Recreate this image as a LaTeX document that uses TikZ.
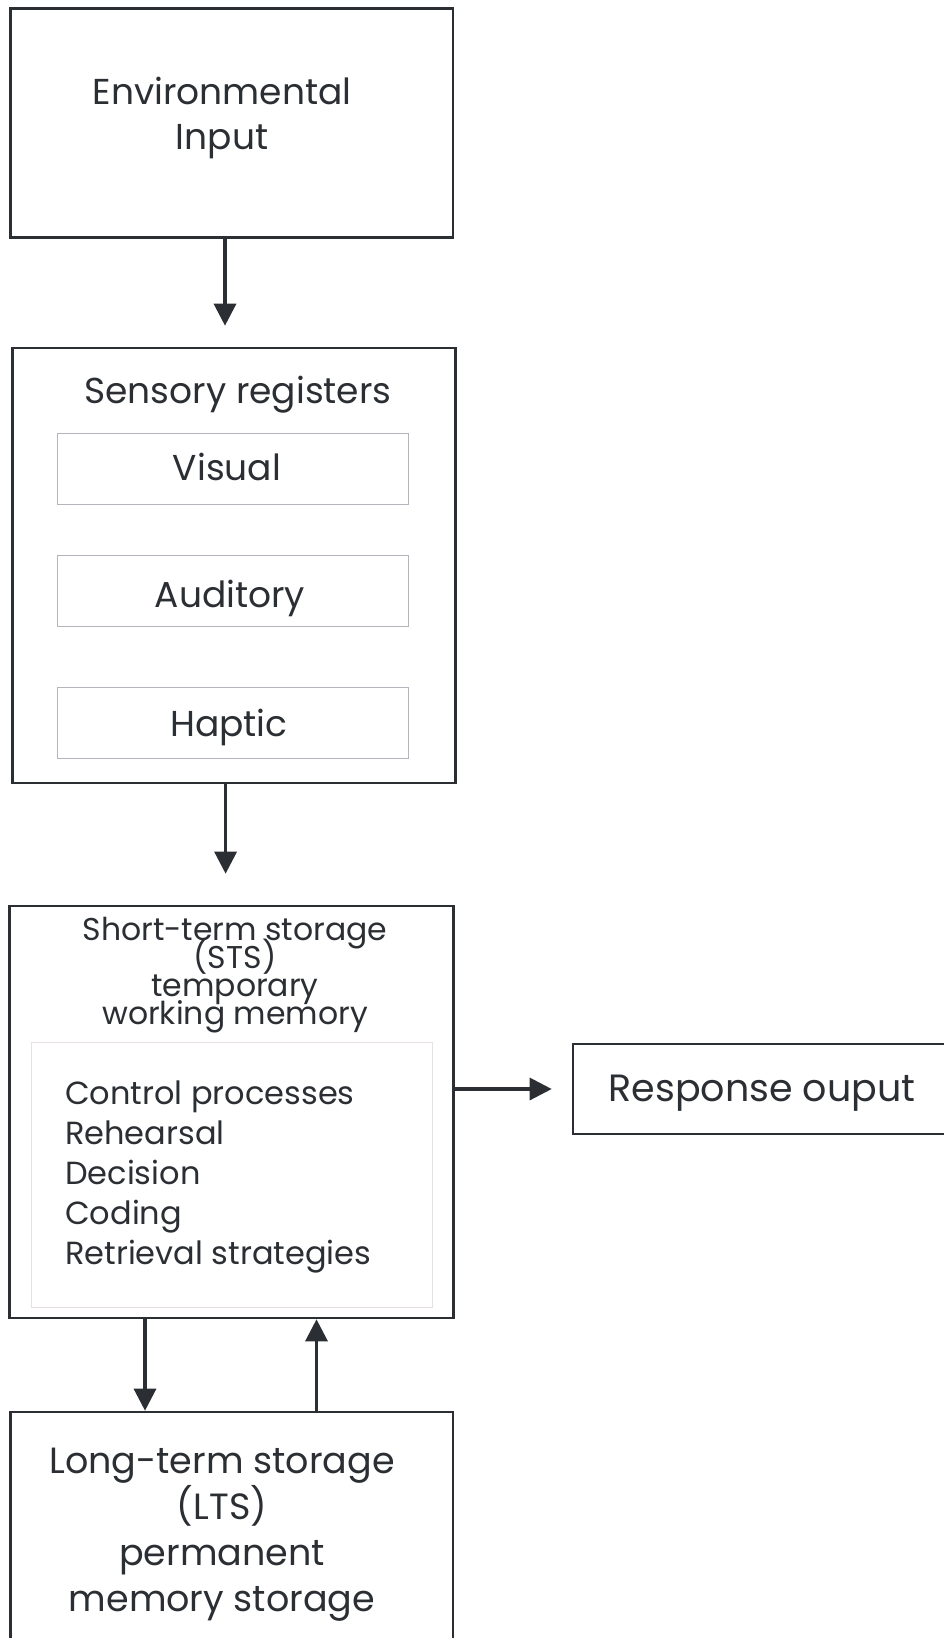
\documentclass[tikz,border=0pt]{standalone}
\usepackage{fontspec}
\setmainfont{Poppins}
\usetikzlibrary{arrows.meta,calc}
\definecolor{ink}{HTML}{2B2F33}
\definecolor{subgray}{HTML}{B4B4BC}
\definecolor{faint}{HTML}{E6E0E6}
\tikzset{
  bigbox/.style={draw=ink,line width=2.6pt,rectangle,inner sep=0pt},
  subbox/.style={draw=subgray,line width=1pt,rectangle,inner sep=0pt},
  faintbox/.style={draw=faint,line width=1pt,rectangle,inner sep=0pt},
  bigtxt/.style={text=ink,align=center,inner sep=0pt,font=\fontsize{36}{45}\selectfont},
  ststxt/.style={text=ink,align=center,inner sep=0pt,font={\fontsize{31.5}{28}\selectfont\lineskiplimit=-30pt\relax}},
  listtxt/.style={text=ink,align=left,inner sep=0pt,font=\fontsize{32}{40}\selectfont},
  arr/.style={draw=ink,line width=3.2pt,-{Triangle[length=22pt,width=22pt]}}
}
\begin{document}
\begin{tikzpicture}[x=1pt,y=1pt]
\useasboundingbox (0,0) rectangle (943,-1638);
\fill[white] (0,0) rectangle (943,-1638);
% Environmental input
\node[bigbox,minimum width=442.6pt,minimum height=228.6pt] (env) at (231.7,-123) {};
\node[bigtxt] (envt) at (222,-118) {Environmental\\Input};
% Sensory registers
\node[bigbox,minimum width=443.5pt,minimum height=435pt] (sens) at (234,-565.5) {};
\node[bigtxt] (senst) at (238,-395) {Sensory registers};
\node[subbox,minimum width=351pt,minimum height=71pt] (vis) at (232.5,-468.5) {};
\node[bigtxt] (vist) at (227,-467) {Visual};
\node[subbox,minimum width=351pt,minimum height=71pt] (aud) at (232.5,-590.5) {};
\node[bigtxt] (audt) at (230,-598) {Auditory};
\node[subbox,minimum width=351pt,minimum height=71pt] (hap) at (232.5,-722.5) {};
\node[bigtxt] (hapt) at (229,-727) {Haptic};
% STS
\node[bigbox,minimum width=443.6pt,minimum height=412pt] (sts) at (231.5,-1112) {};
\node[ststxt] (stst) at (235,-975) {Short-term storage\\(STS)\\temporary\\working memory};
\node[faintbox,minimum width=401pt,minimum height=265pt] (ctrl) at (231.5,-1174.5) {};
\node[listtxt,anchor=west] (ctrlt) at (65,-1177) {Control processes\\Rehearsal\\Decision\\Coding\\Retrieval strategies};
% Response
\node[bigbox,minimum width=400pt,minimum height=90pt] (resp) at (773,-1089) {};
\node[bigtxt,font=\fontsize{38}{45}\selectfont] (respt) at (762,-1093) {Response ouput};
% LTS
\node[bigbox,minimum width=442.6pt,minimum height=260pt] (lts) at (231.7,-1542) {};
\node[bigtxt,font=\fontsize{36.5}{46}\selectfont] (ltst) at (222,-1535) {Long-term storage\\(LTS)\\permanent\\memory storage};
% connectors
\coordinate (a1) at (225,-237);
\draw[arr,shorten >=21pt] (a1 |- env.south) -- (a1 |- sens.north);
\coordinate (a2) at (225.6,-783);
\draw[arr,shorten >=31pt] (a2 |- sens.south) -- (a2 |- sts.north);
\draw[arr,shorten >=20pt] (resp.west -| sts.east) -- (resp.west);
\coordinate (a3) at (145,-1318);
\draw[arr] (a3 |- sts.south) -- (a3 |- lts.north);
\coordinate (a4) at (316.5,-1412);
\draw[arr] (a4 |- lts.north) -- (a4 |- sts.south);
\end{tikzpicture}
\end{document}
